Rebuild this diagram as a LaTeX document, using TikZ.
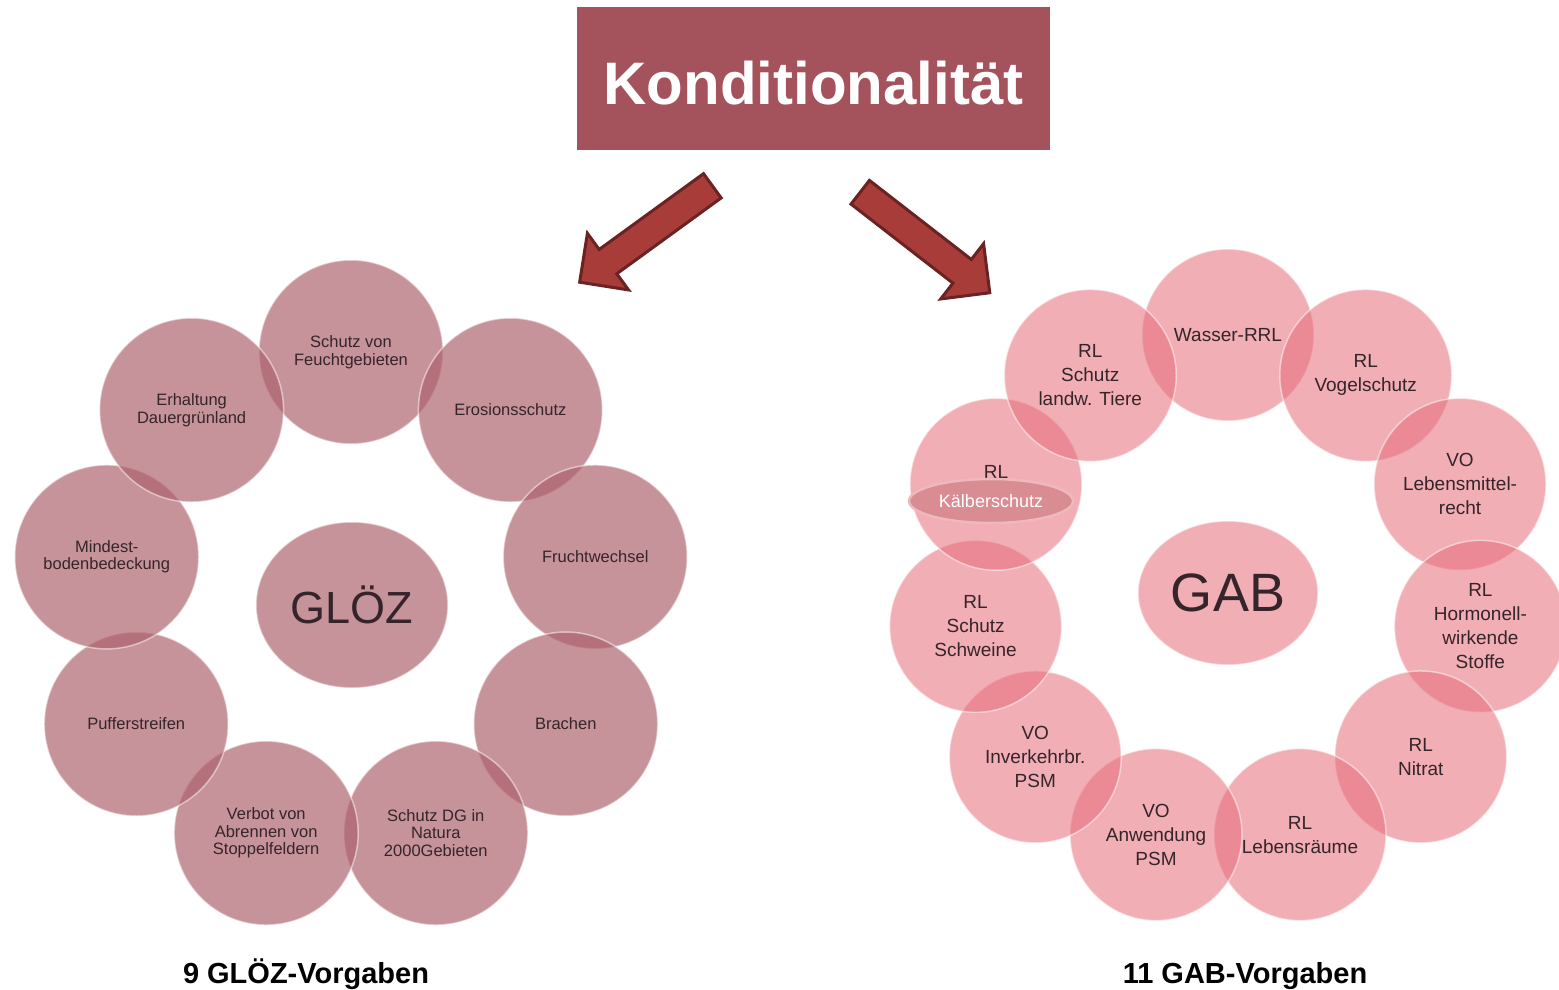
\documentclass[tikz,border=0pt]{standalone}
\usepackage{fontspec}
\setmainfont{Liberation Sans}
\usepackage{xcolor}
\usepackage{tikz}
\usetikzlibrary{positioning,shapes.geometric}

\definecolor{titlered}{HTML}{A4525B}
\definecolor{arrowfill}{HTML}{A83C39}
\definecolor{arrowline}{HTML}{6B2222}
\definecolor{glozrose}{HTML}{AE636E}
\definecolor{gabpink}{HTML}{E76C7A}
\definecolor{kalbfill}{HTML}{D98C92}
\definecolor{kalbline}{HTML}{EEB9BC}
\definecolor{txtdark}{HTML}{35242A}

\begin{document}
\begin{tikzpicture}[x=1pt, y=-1pt,
  titlebox/.style={fill=titlered, text=white, font=\fontsize{60}{60}\selectfont\bfseries, minimum width=473pt, minimum height=142pt, inner sep=0pt, text height=52pt, text depth=0pt},
  bigarrow/.style={fill=arrowfill, draw=arrowline, line width=3pt, line join=miter},
  gz/.style={circle, fill=glozrose, fill opacity=0.69, text opacity=1, draw=white, draw opacity=0.5, line width=1.5pt, minimum size=184pt, inner sep=0pt, align=center, text=txtdark, font=\fontsize{16.5}{17.5}\selectfont},
  ga/.style={circle, fill=gabpink, fill opacity=0.55, text opacity=1, draw=white, draw opacity=0.5, line width=1.5pt, minimum size=172pt, inner sep=0pt, align=center, text=txtdark, font=\fontsize{19}{24}\selectfont},
  kalb/.style={ellipse, fill=kalbfill, draw=kalbline, line width=2.5pt, minimum width=164pt, minimum height=44pt, inner sep=0pt, text=white, font=\fontsize{18}{18}\selectfont},
  count/.style={anchor=base, font=\fontsize{29}{29}\selectfont\bfseries}]
\fill[white] (0,0) rectangle (1559,990);
\useasboundingbox (0,0) rectangle (1559,990);

\node[titlebox] (title) at (813.5,78.5) {Konditionalität};

% block arrows
\foreach \cx/\cy/\ang in {646/234/216, 925/242.5/-37.8}
  \draw[bigarrow, shift={(\cx,\cy)}, rotate=\ang] (-82,-15) -- (47,-15) -- (47,-35) -- (82,0) -- (47,35) -- (47,15) -- (-82,15) -- cycle;

% GLOEZ
\node[gz, ellipse, minimum width=192pt, minimum height=166pt, font=\fontsize{45}{45}\selectfont] (gloez) at (352,605) {GLÖZ};
\foreach \a/\t [count=\i] in {-90/{Schutz von\\Feuchtgebieten}, -50/Erosionsschutz, -10/Fruchtwechsel, 30/Brachen, 70/{Schutz DG in\\Natura\\2000Gebieten}, 110/{Verbot von\\Abrennen von\\Stoppelfeldern}, 150/Pufferstreifen, 190/{Mindest-\\bodenbedeckung}, 230/{Erhaltung\\Dauergrünland}}
  \node[gz] (gz\i) at ({351+248*cos(\a)},{600+248*sin(\a)}) {\t};

% GAB
\node[ga, ellipse, minimum width=180pt, minimum height=144pt, font=\fontsize{54}{54}\selectfont] (gab) at (1228,593) {GAB};
\foreach \a/\t [count=\i] in {-90/Wasser-RRL, -57.3/{RL\\Vogelschutz}, -24.5/{VO\\Lebensmittel-\\recht}, 8.2/{RL\\Hormonell-\\wirkende\\Stoffe}, 40.9/{RL\\Nitrat}, 73.6/{RL\\Lebensräume}, 106.4/{VO\\Anwendung\\PSM}, 139.1/{VO\\Inverkehrbr.\\PSM}, 171.8/{RL\\Schutz\\Schweine}, 204.5/{RL\\\vphantom{K}}, 237.3/{RL\\Schutz\\landw. Tiere}}
  \node[ga] (ga\i) at ({1228+255*cos(\a)},{590+255*sin(\a)}) {\t};
\node[kalb] (kalb) at (991,501) {Kälberschutz};

\node[count] (gzcount) at (306,983) {9 GLÖZ-Vorgaben};
\node[count] (gacount) at (1245,983) {11 GAB-Vorgaben};
\end{tikzpicture}
\end{document}
